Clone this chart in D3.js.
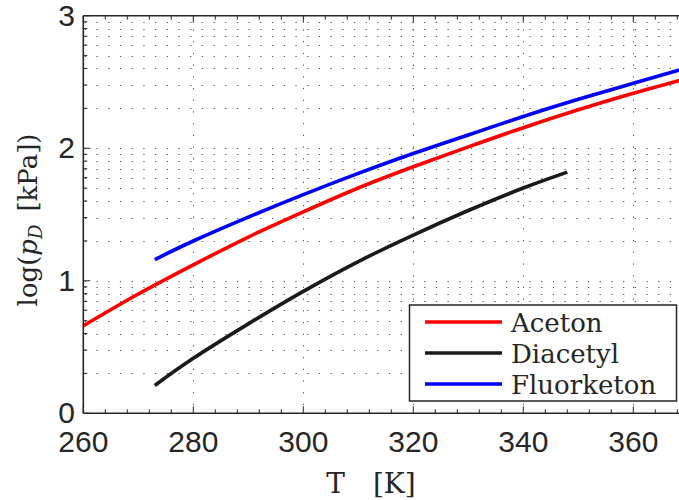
<!DOCTYPE html>
<html lang="en">
<head>
    <meta charset="UTF-8">
    <title>Vapour pressure</title>
    <script src="https://cdn.jsdelivr.net/npm/d3@7"></script>
    <style>
        body {
            margin: 0;
            background: #fff;
        }
        .tick-label {
            font-family: 'Liberation Sans', Arial, sans-serif;
            font-size: 30px;
            fill: #262626;
        }
        .title {
            font-family: 'DejaVu Serif', serif;
            font-size: 26px;
            fill: #262626;
        }
    </style>
</head>
<body>
    <svg id="chart" width="679" height="500"></svg>

    <script>
        // values, log10 of vapour pressure in kPa
        const acetonT = [260, 270, 280, 290, 300, 310, 320, 330, 340, 350, 360, 370];
        const acetonLogP = [0.66, 0.90, 1.12, 1.33, 1.52, 1.70, 1.86, 2.01, 2.155, 2.29, 2.415, 2.53];

        const diacetylT = [273, 280, 290, 300, 310, 320, 330, 340, 348];
        const diacetylLogP = [0.21, 0.415, 0.675, 0.92, 1.145, 1.345, 1.53, 1.70, 1.82];

        const fluorT = [273, 280, 290, 300, 310, 320, 330, 340, 350, 360, 370];
        const fluorLogP = [1.16, 1.30, 1.48, 1.65, 1.81, 1.96, 2.10, 2.24, 2.37, 2.49, 2.61];

        const seriesNames = ['Aceton', 'Diacetyl', 'Fluorketon'];
        const seriesColors = ['#ff0000', '#1a1a1a', '#0000ff'];

        const xTickLabels = [260, 280, 300, 320, 340, 360];
        const yTickLabels = [0, 1, 2, 3];

        const svg = d3.select('#chart');
        const axisColor = '#262626';

        // plot box runs past the right edge of the window, like the original
        const x = d3.scaleLinear().domain([260, 370]).range([83.3, 688.3]);
        const y = d3.scaleLinear().domain([0, 3]).range([413.3, 15.7]);

        svg.append('rect').attr('width', 679).attr('height', 500).attr('fill', '#fff');

        // minor grid: log-style spacing between each decade
        const yMinor = [];
        yTickLabels.slice(0, -1).forEach(d => {
            for (let k = 2; k <= 9; k++) yMinor.push(d + Math.log10(k));
        });
        const yGrid = yMinor.concat([1, 2]);
        const xMinor = d3.range(260, 370, 4);

        const grid = svg.append('g')
            .attr('stroke', '#555')
            .attr('stroke-width', 1)
            .attr('stroke-dasharray', '1.3,10.4');

        grid.selectAll('.hgrid')
            .data(yGrid)
            .enter().append('line')
            .attr('x1', x(260) + 1.5)
            .attr('x2', 679)
            .attr('y1', d => Math.round(y(d)) + 0.5)
            .attr('y2', d => Math.round(y(d)) + 0.5);

        grid.selectAll('.vgrid')
            .data(xTickLabels.slice(1))
            .enter().append('line')
            .attr('x1', d => Math.round(x(d)) + 0.5)
            .attr('x2', d => Math.round(x(d)) + 0.5)
            .attr('y1', y(3) + 2)
            .attr('y2', y(0));

        // curves
        const line = d3.line()
            .x(d => x(d[0]))
            .y(d => y(d[1]))
            .curve(d3.curveNatural);

        const series = [
            d3.zip(acetonT, acetonLogP),
            d3.zip(diacetylT, diacetylLogP),
            d3.zip(fluorT, fluorLogP)
        ];

        svg.selectAll('.curve')
            .data(series)
            .enter().append('path')
            .attr('class', 'curve')
            .attr('d', line)
            .attr('fill', 'none')
            .attr('stroke', (d, i) => seriesColors[i])
            .attr('stroke-width', 3.6);

        // axes (ticks point inward, MATLAB style)
        const ax = svg.append('g').attr('stroke', axisColor);

        ax.selectAll('.xtick-b')
            .data(xMinor)
            .enter().append('line')
            .attr('x1', d => x(d))
            .attr('x2', d => x(d))
            .attr('y1', y(0))
            .attr('y2', d => y(0) - (xTickLabels.includes(d) ? 7 : 4))
            .attr('stroke-width', 1);

        ax.selectAll('.xtick-t')
            .data(xMinor)
            .enter().append('line')
            .attr('x1', d => x(d))
            .attr('x2', d => x(d))
            .attr('y1', y(3))
            .attr('y2', d => y(3) + (xTickLabels.includes(d) ? 7 : 4))
            .attr('stroke-width', 1);

        ax.selectAll('.ytick')
            .data(yMinor.concat(yTickLabels))
            .enter().append('line')
            .attr('x1', x(260))
            .attr('x2', d => x(260) + (yTickLabels.includes(d) ? 7 : 4))
            .attr('y1', d => y(d))
            .attr('y2', d => y(d))
            .attr('stroke-width', 1);

        ax.append('line')
            .attr('x1', x(260)).attr('x2', 679)
            .attr('y1', y(0)).attr('y2', y(0))
            .attr('stroke-width', 1.6);
        ax.append('line')
            .attr('x1', x(260)).attr('x2', 679)
            .attr('y1', y(3)).attr('y2', y(3))
            .attr('stroke-width', 1.6);
        ax.append('line')
            .attr('x1', x(260)).attr('x2', x(260))
            .attr('y1', y(0)).attr('y2', y(3))
            .attr('stroke-width', 1.6);

        svg.selectAll('.xlabel')
            .data(xTickLabels)
            .enter().append('text')
            .attr('class', 'tick-label')
            .attr('x', d => x(d))
            .attr('y', 452)
            .attr('text-anchor', 'middle')
            .text(d => d);

        svg.selectAll('.ylabel')
            .data(yTickLabels)
            .enter().append('text')
            .attr('class', 'tick-label')
            .attr('x', 75)
            .attr('y', d => y(d) + 10)
            .attr('text-anchor', 'end')
            .text(d => d);

        // axis titles
        const xt = svg.append('text')
            .attr('class', 'title')
            .attr('x', 371)
            .attr('y', 493)
            .attr('text-anchor', 'middle')
            .style('font-size', '28px');
        xt.append('tspan').text('T\u2003[K]');

        const yt = svg.append('text')
            .attr('class', 'title')
            .attr('transform', 'translate(37,220) rotate(-90)')
            .attr('text-anchor', 'middle');
        yt.append('tspan').text('log(');
        yt.append('tspan').attr('font-style', 'italic').text('p');
        yt.append('tspan').attr('font-style', 'italic').attr('font-size', '18px').attr('dy', 5).text('D');
        yt.append('tspan').attr('dy', -5).text('\u2002[kPa])');

        // legend
        const legend = svg.append('g');
        legend.append('rect')
            .attr('x', 409.5).attr('y', 305)
            .attr('width', 267).attr('height', 96)
            .attr('fill', '#fff')
            .attr('stroke', axisColor)
            .attr('stroke-width', 1.5);

        const rows = legend.selectAll('.row')
            .data(seriesNames)
            .enter().append('g')
            .attr('transform', (d, i) => `translate(0,${322 + i * 31})`);

        rows.append('line')
            .attr('x1', 425).attr('x2', 502)
            .attr('stroke', (d, i) => seriesColors[i])
            .attr('stroke-width', 3.6);

        rows.append('text')
            .attr('class', 'title')
            .attr('x', 511)
            .attr('y', 10)
            .text(d => d);
    </script>
</body>
</html>
